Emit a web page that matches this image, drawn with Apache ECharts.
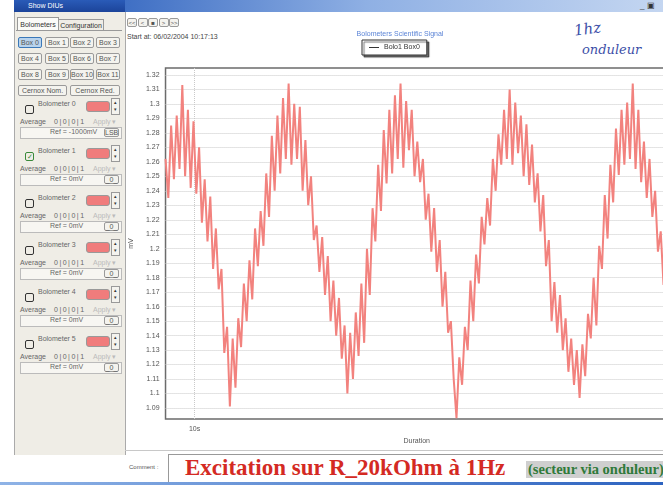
<!DOCTYPE html>
<html>
<head>
<meta charset="utf-8">
<script src="https://cdn.jsdelivr.net/npm/echarts@6/dist/echarts.min.js"></script>
<style>
  html, body { margin: 0; padding: 0; width: 663px; height: 485px; overflow: hidden; background: #fff;
    font-family: "Liberation Sans", Arial, sans-serif; color: #333; }
  .a { position: absolute; white-space: nowrap; }
  .btn { position: absolute; background: #f4f3ee; border: 1px solid #9a9a9a; border-radius: 2px;
    font-size: 7px; line-height: 10px; text-align: center; color: #555; box-sizing: border-box; }
  .small { font-size: 7px; color: #666; }
</style>
</head>
<body>
<div id="ui"></div>
<div id="chart" class="a" style="left:120px; top:14px; width:580px; height:440px;"></div>
<script>
// signal (mV), one sample every 25 ms
const sampleStart = 9.74;
const sampleStep = 0.025;
const signal = [
  1.262, 1.235, 1.285, 1.248, 1.292, 1.255, 1.313, 1.250, 1.296, 1.242,
  1.288, 1.238, 1.270, 1.218, 1.248, 1.205, 1.236, 1.186, 1.214, 1.172,
  1.186, 1.128, 1.146, 1.091, 1.138, 1.104, 1.152, 1.132, 1.176, 1.150,
  1.192, 1.165, 1.214, 1.188, 1.226, 1.202, 1.252, 1.222, 1.278, 1.240,
  1.292, 1.252, 1.304, 1.262, 1.314, 1.258, 1.300, 1.262, 1.298, 1.240,
  1.275, 1.230, 1.250, 1.206, 1.216, 1.184, 1.208, 1.168, 1.195, 1.150,
  1.178, 1.140, 1.166, 1.124, 1.147, 1.100, 1.142, 1.110, 1.156, 1.126,
  1.176, 1.135, 1.200, 1.168, 1.228, 1.205, 1.258, 1.226, 1.282, 1.245,
  1.296, 1.252, 1.306, 1.262, 1.314, 1.256, 1.302, 1.268, 1.296, 1.250,
  1.274, 1.246, 1.262, 1.220, 1.238, 1.198, 1.228, 1.184, 1.206, 1.160,
  1.184, 1.142, 1.150, 1.110, 1.083, 1.125, 1.106, 1.146, 1.130, 1.178,
  1.150, 1.196, 1.176, 1.222, 1.203, 1.235, 1.216, 1.262, 1.240, 1.279,
  1.258, 1.296, 1.262, 1.310, 1.258, 1.301, 1.266, 1.292, 1.250, 1.286,
  1.244, 1.272, 1.232, 1.252, 1.212, 1.237, 1.188, 1.206, 1.150, 1.177,
  1.142, 1.168, 1.130, 1.152, 1.115, 1.138, 1.106, 1.130, 1.097, 1.134,
  1.112, 1.155, 1.138, 1.180, 1.147, 1.202, 1.186, 1.237, 1.207, 1.258,
  1.232, 1.283, 1.251, 1.296, 1.258, 1.301, 1.262, 1.314, 1.255, 1.296,
  1.246, 1.274, 1.235, 1.262, 1.222, 1.240, 1.198, 1.212, 1.175, 1.196, 1.170
];
const yTicks = [1.09, 1.10, 1.11, 1.12, 1.13, 1.14, 1.15, 1.16, 1.17, 1.18, 1.19, 1.20,
  1.21, 1.22, 1.23, 1.24, 1.25, 1.26, 1.27, 1.28, 1.29, 1.30, 1.31, 1.32];
const xTicks = [10];
const seriesName = 'Bolo1 Box0';

const boxLabels = ['Box 0', 'Box 1', 'Box 2', 'Box 3', 'Box 4', 'Box 5', 'Box 6', 'Box 7',
  'Box 8', 'Box 9', 'Box 10', 'Box 11'];
const bolometers = ['Bolometer 0', 'Bolometer 1', 'Bolometer 2', 'Bolometer 3', 'Bolometer 4', 'Bolometer 5'];
const refLabels = ['Ref = -1000mV', 'Ref = 0mV', 'Ref = 0mV', 'Ref = 0mV', 'Ref = 0mV', 'Ref = 0mV'];

// --- window chrome and left panel ---
let html = '';
html += '<div class="a" style="left:14px;top:0;width:111px;height:12px;background:linear-gradient(#2a5bb8,#1c449a);color:#fff;font-size:7px;line-height:12px;padding-left:14px;box-sizing:border-box;">Show DIUs</div>';
html += '<div class="a" style="left:125px;top:0;width:538px;height:12px;background:linear-gradient(to right,#3f6fc4,#8fb0e4 45%,#c4d6f1);"></div>';
html += '<div class="a" style="left:640px;top:1px;font-size:8px;color:#333;">_ ▣</div>';
html += '<div class="a" style="left:14px;top:12px;width:110px;height:443px;background:#efede6;border-left:1px solid #aaa;border-right:1px solid #aaa;"></div>';
html += '<div class="a" style="left:17px;top:17px;width:40px;height:13px;background:#fbfbf8;border:1px solid #999;border-bottom:none;font-size:7px;line-height:13px;text-align:center;">Bolometers</div>';
html += '<div class="a" style="left:58px;top:19px;width:44px;height:11px;background:#efede6;border:1px solid #999;border-bottom:none;font-size:7px;line-height:11px;text-align:center;">Configuration</div>';
html += '<div class="a" style="left:16px;top:30px;width:106px;height:420px;border-top:1px solid #999;"></div>';
const boxX = [18, 45, 70, 96];
const boxY = [37, 53, 69];
boxLabels.forEach(function (lab, i) {
  const sel = i === 0 ? 'background:#b9d3ec;border-color:#3b78b8;' : '';
  html += '<div class="btn" style="left:' + boxX[i % 4] + 'px;top:' + boxY[Math.floor(i / 4)] +
    'px;width:24px;height:11px;' + sel + '">' + lab + '</div>';
});
html += '<div class="btn" style="left:18px;top:85px;width:49px;height:11px;">Cernox Nom.</div>';
html += '<div class="btn" style="left:70px;top:85px;width:50px;height:11px;">Cernox Red.</div>';
bolometers.forEach(function (name, k) {
  const y = 100 + 47 * k;
  const checked = k === 1;
  html += '<div class="a" style="left:25px;top:' + (y + 5) + 'px;width:7px;height:7px;border:1.5px solid ' +
    (checked ? '#3a8a3a' : '#333') + ';border-radius:2px;color:#3a8a3a;font-size:7px;line-height:7px;text-align:center;">' +
    (checked ? '✓' : '') + '</div>';
  html += '<div class="a small" style="left:38px;top:' + y + 'px;">' + name + '</div>';
  html += '<div class="a" style="left:86px;top:' + (y + 1) + 'px;width:22px;height:9px;background:#f07c7c;border:1px solid #999;border-radius:3px;"></div>';
  html += '<div class="a" style="left:111px;top:' + (y - 2) + 'px;width:7px;height:15px;border:1px solid #999;background:#f4f3ee;font-size:5px;line-height:7px;text-align:center;">▴<br>▾</div>';
  html += '<div class="a small" style="left:20px;top:' + (y + 18) + 'px;">Average</div>';
  html += '<div class="a small" style="left:54px;top:' + (y + 18) + 'px;letter-spacing:1.5px;">0|0|0|1</div>';
  html += '<div class="a" style="left:93px;top:' + (y + 18) + 'px;font-size:7px;color:#bbb;">Apply ▾</div>';
  html += '<div class="a" style="left:20px;top:' + (y + 27) + 'px;width:100px;height:10px;border:1px solid #bbb;background:#f7f6f2;"></div>';
  html += '<div class="a small" style="left:50px;top:' + (y + 28) + 'px;">' + refLabels[k] + '</div>';
  html += '<div class="btn" style="left:104px;top:' + (y + 28) + 'px;width:15px;height:9px;line-height:8px;">' + (k === 0 ? 'LSB' : '_0_') + '</div>';
});

// --- chart header ---
['<<', '<', '■', '>', '>>'].forEach(function (s, i) {
  html += '<div class="btn" style="left:' + (127 + i * 10.5) + 'px;top:18px;width:10px;height:9px;line-height:8px;font-size:6px;">' + s + '</div>';
});
html += '<div class="a small" style="left:127px;top:33px;color:#444;">Start at: 06/02/2004 10:17:13</div>';
html += '<div class="a" style="left:574px;top:20px;font-family:\'DejaVu Serif\',serif;font-style:italic;font-size:15px;color:#3d4fa8;transform:rotate(-8deg);">1hz</div>';
html += '<div class="a" style="left:582px;top:42px;font-family:\'DejaVu Serif\',serif;font-style:italic;font-size:13px;color:#3d4fa8;">onduleur</div>';

// --- comment area ---
html += '<div class="a" style="left:125px;top:450px;width:538px;height:1px;background:#c8c8c8;"></div>';
html += '<div class="a" style="left:129px;top:464px;font-size:6px;color:#555;">Comment :</div>';
html += '<div class="a" style="left:168px;top:454px;width:500px;height:30px;border:1px solid #999;background:#fff;"></div>';
html += '<div class="a" style="left:185px;top:455px;font-family:\'Liberation Serif\',\'Times New Roman\',serif;font-weight:bold;font-size:23px;color:#d42a23;">Excitation sur R_20kOhm à 1Hz</div>';
html += '<div class="a" style="left:526px;top:461px;padding:0 2px;background:#cfcfcf;font-family:\'Liberation Serif\',serif;font-weight:bold;font-size:14.5px;color:#2f7a3a;">(secteur via onduleur)</div>';
html += '<div class="a" style="left:0;top:482px;width:663px;height:3px;background:linear-gradient(to right,#8fb3e6,#2d63c0);"></div>';
document.getElementById('ui').innerHTML = html;

// --- chart ---
const chart = echarts.init(document.getElementById('chart'), null, { renderer: 'canvas' });
const points = signal.map(function (v, i) { return [sampleStart + i * sampleStep, v]; });

chart.setOption({
  backgroundColor: 'transparent',
  animation: false,
  title: {
    text: 'Bolometers Scientific Signal',
    left: 275, top: 12, textAlign: 'center',
    textStyle: { fontSize: 7, fontWeight: 'normal', color: '#5b84d6', fontFamily: 'Liberation Sans' }
  },
  legend: {
    data: [seriesName],
    left: 242, top: 26,
    padding: [4, 7],
    itemWidth: 10, itemHeight: 1,
    icon: 'rect',
    borderColor: '#333', borderWidth: 1, backgroundColor: '#fff',
    shadowColor: 'rgba(0,0,0,0.55)', shadowOffsetX: 2, shadowOffsetY: 2, shadowBlur: 1,
    itemStyle: { color: '#333' },
    textStyle: { fontSize: 7, color: '#333', fontFamily: 'Liberation Sans' }
  },
  grid: {
    left: 43, top: 54, width: 505, height: 351,
    show: true, backgroundColor: '#fff', borderColor: '#6b6b6b', borderWidth: 1.5
  },
  xAxis: {
    type: 'value',
    min: 9.74, max: 14.23,
    name: 'Duration', nameLocation: 'middle', nameGap: 19,
    nameTextStyle: { fontSize: 7, color: '#555' },
    axisLine: { show: false },
    axisTick: { show: false, customValues: xTicks },
    axisLabel: { customValues: xTicks, fontSize: 7, color: '#555', margin: 7,
      formatter: function (v) { return v + 's'; } },
    splitLine: { show: true, lineStyle: { type: 'dotted', color: '#c9c9c9' } }
  },
  yAxis: {
    type: 'value',
    min: 1.0824, max: 1.3248,
    name: 'mV', nameLocation: 'middle', nameGap: 24, nameRotate: 90,
    nameTextStyle: { fontSize: 7, color: '#555' },
    axisLine: { show: false },
    axisTick: { show: false, customValues: yTicks },
    axisLabel: { customValues: yTicks, fontSize: 7, color: '#555', margin: 6 },
    splitLine: { show: true, lineStyle: { type: 'dotted', color: '#c9c9c9' } }
  },
  series: [{
    name: seriesName,
    type: 'line',
    data: points,
    showSymbol: false,
    clip: true,
    lineStyle: { color: '#f2827e', width: 2 },
    itemStyle: { color: '#333' }
  }]
});
</script>
</body>
</html>
